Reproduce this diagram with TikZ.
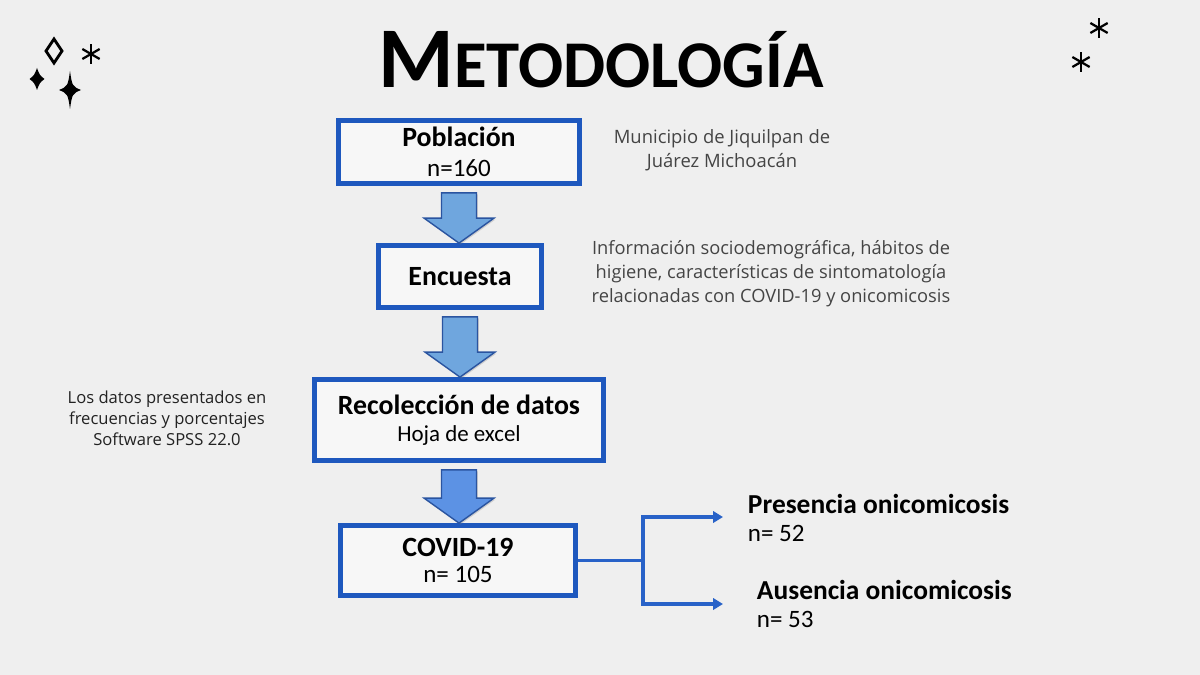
\documentclass[tikz,border=0pt]{standalone}
\usepackage{fontspec}
\setmainfont{Carlito}
\newfontfamily\notas{Open Sans}
\usepackage{xcolor}
\definecolor{fondo}{RGB}{239,239,239}
\definecolor{azulcaja}{RGB}{30,88,190}
\definecolor{azulflecha}{RGB}{111,166,222}
\definecolor{azulflechab}{RGB}{92,146,228}
\definecolor{azulborde}{RGB}{42,84,160}
\definecolor{azullinea}{RGB}{40,98,200}
\definecolor{grisnota}{RGB}{68,68,68}
\definecolor{grisoscuro}{RGB}{34,34,34}
\usetikzlibrary{arrows.meta,positioning,calc,shadows}

\newcommand{\flecha}[3]{%
  \draw[bloque, fill=#3] ($(#1.south)+(-17.5,7)$) -- ($(#1.south)+(17.5,7)$)
    -- ($(#1.south |- #2.north)+(17.5,-25)$) -- ($(#1.south |- #2.north)+(35,-25)$)
    -- (#1.south |- #2.north) -- ($(#1.south |- #2.north)+(-35,-25)$)
    -- ($(#1.south |- #2.north)+(-17.5,-25)$) -- cycle;}
\newcommand{\destello}[5]{%
  \fill (#1,#2-#4) .. controls (#1+#5*#3,#2-#5*#4) .. (#1+#3,#2)
    .. controls (#1+#5*#3,#2+#5*#4) .. (#1,#2+#4)
    .. controls (#1-#5*#3,#2+#5*#4) .. (#1-#3,#2)
    .. controls (#1-#5*#3,#2-#5*#4) .. cycle;}
\newcommand{\asterisco}[3]{%
  \foreach \a in {90,30,150}
    \draw[line width=1.6pt] ($(#1,#2)+(\a:#3)$) -- ($(#1,#2)-(\a:#3)$);}

\begin{document}
\begin{tikzpicture}[
  x=0.025cm, y=-0.025cm,
  caja/.style={
    rectangle, draw=azulcaja, line width=3.4pt,
    fill=fondo!50!white, align=center,
    font=\fontsize{19.8}{19}\selectfont\bfseries,
    drop shadow={shadow xshift=1.2pt, shadow yshift=-1.2pt, opacity=.3}
  },
  bloque/.style={draw=azulborde, line width=1pt, line join=miter,
    drop shadow={shadow xshift=1pt, shadow yshift=-1pt, opacity=.3}},
  nota/.style={font=\notas\fontsize{13.1}{17}\selectfont, text=grisnota, align=center},
  resul/.style={anchor=west, align=left, font=\fontsize{19.5}{20.5}\selectfont},
  linea/.style={draw=azullinea, line width=2.5pt, line join=miter,
    {Triangle[length=7pt,width=8pt]}-{Triangle[length=7pt,width=8pt]}}
]
\fill[fondo] (0,0) rectangle (1200,675);
\useasboundingbox (0,0) rectangle (1200,675);

\node[font=\bfseries, anchor=base] (titulo) at (601,88)
  {{\fontsize{61.5}{62}\selectfont M}{\fontsize{47.5}{50}\selectfont ETODOLOGÍA}};

\node[caja, minimum width=6.025cm, minimum height=1.575cm] (pob) at (459,152)
  {Población\\[2pt]{\mdseries\fontsize{17.8}{19}\selectfont n=160}};
\node[caja, minimum width=4.075cm, minimum height=1.55cm] (enc) at (460,276.5)
  {Encuesta};
\node[caja, minimum width=7.225cm, minimum height=2.025cm] (rec) at (459,420)
  {Recolección de datos\\{\mdseries\fontsize{16.3}{18}\selectfont Hoja de excel}};
\node[caja, minimum width=5.875cm, minimum height=1.75cm] (cov) at (458,560.5)
  {COVID-19\\{\mdseries\fontsize{17.8}{19}\selectfont n= 105}};

\flecha{pob}{enc}{azulflecha}
\flecha{enc}{rec}{azulflecha}
\flecha{rec}{cov}{azulflechab}

\node[nota] (muni) at (722,150) {Municipio de Jiquilpan de\\Juárez Michoacán};
\node[nota, font=\notas\fontsize{13}{17}\selectfont] (info) at (771,274)
  {Información sociodemográfica, hábitos de\\higiene, características de sintomatología\\relacionadas con COVID-19 y onicomicosis};
\node[nota, text=grisoscuro, font=\notas\fontsize{11.8}{15}\selectfont] (spss) at (167,418)
  {Los datos presentados en\\frecuencias y porcentajes\\Software SPSS 22.0};

\node[resul] (pres) at (743,518)
  {\textbf{Presencia onicomicosis}\\{\fontsize{17.8}{20.5}\selectfont n= 52}};
\node[resul] (aus) at (752,604)
  {\textbf{Ausencia onicomicosis}\\{\fontsize{17.8}{20.5}\selectfont n= 53}};

\coordinate (rsup) at (643,517);
\coordinate (rinf) at (643,604);
\coordinate (psup) at (723,517);
\coordinate (pinf) at (723,604);
\draw[draw=azullinea, line width=2.5pt] (cov.east) -- (cov.east -| rsup);
\draw[linea] (psup) -- (rsup) -- (rinf) -- (pinf);

\draw[line width=2pt] (54,39) -- (62,51) -- (54,63) -- (46,51) -- cycle;
\destello{37}{79}{7.5}{11}{0.35}
\destello{70}{90}{11}{19}{0.2}
\asterisco{91}{54}{10}
\asterisco{1099}{28}{10}
\asterisco{1081}{62}{10}
\end{tikzpicture}
\end{document}
